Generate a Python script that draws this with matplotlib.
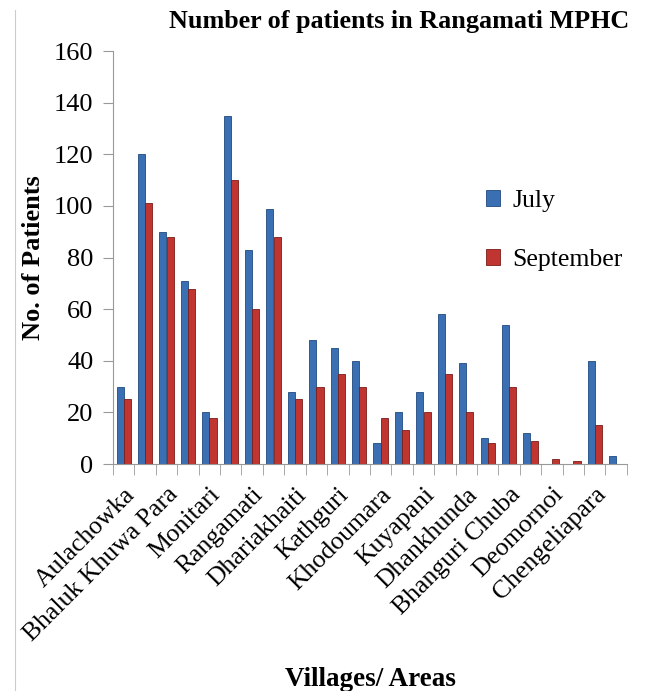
import matplotlib.pyplot as plt
import numpy as np
from matplotlib.lines import Line2D

plt.rcParams['font.family'] = ['Liberation Serif', 'DejaVu Serif']

# villages (only every other name is printed on the axis in the original)
villages = ["Aulachowka", "", "Bhaluk Khuwa Para", "", "Monitari", "",
            "Rangamati", "", "Dhariakhaiti", "", "Kathguri", "",
            "Khodoumara", "", "Kuyapani", "", "Dhankhunda", "",
            "Bhanguri Chuba", "", "Deomornoi", "", "Chengeliapara", ""]
july = [30, 120, 90, 71, 20, 135, 83, 99, 28, 48, 45, 40,
        8, 20, 28, 58, 39, 10, 54, 12, 0, 0, 40, 3]
september = [25, 101, 88, 68, 18, 110, 60, 88, 25, 30, 35, 30,
             18, 13, 20, 35, 20, 8, 30, 9, 2, 1, 15, 0]

blue = "#3a6fb4"
red = "#c0352f"

fig = plt.figure(figsize=(6.53, 6.91), dpi=100)
ax = fig.add_axes([0.173, 0.3285, 0.787, 0.5975])

x = np.arange(len(villages))
w = 0.33
ax.bar(x - 0.17, july, w, color=blue, edgecolor="#1f4a80", linewidth=0.6, label="July")
ax.bar(x + 0.17, september, w, color=red, edgecolor="#7a1c18", linewidth=0.6, label="September")

ax.set_xlim(-0.5, len(villages) - 0.5)
ax.set_ylim(0, 160)
ax.set_yticks(range(0, 161, 20))
ax.tick_params(axis="y", labelsize=19, length=7, color="#999999", pad=7)

# labels on even categories, tick marks between categories
shown = [i for i in x if villages[i]]
ax.set_xticks(shown)
ax.set_xticklabels([villages[i] for i in shown], rotation=45, ha="right",
                   rotation_mode="anchor", fontsize=18.5)
ax.tick_params(axis="x", length=0, pad=14)
ax.set_xticks(np.arange(-0.5, len(villages), 1), minor=True)
ax.tick_params(axis="x", which="minor", length=8, color="#999999")

for s in ["top", "right"]:
    ax.spines[s].set_visible(False)
for s in ["left", "bottom"]:
    ax.spines[s].set_color("#999999")

ax.legend(loc="upper left", bbox_to_anchor=(0.68, 0.72), frameon=False,
          fontsize=18.5, handlelength=0.55, handleheight=0.55, labelspacing=1.45,
          handletextpad=0.5)

fig.text(0.611, 0.969, "Number of patients in Rangamati MPHC", ha="center",
         va="center", fontsize=18.8, fontweight="bold")
fig.text(0.052, 0.627, "No. of Patients", rotation=90, ha="center",
         va="center", fontsize=19, fontweight="bold")
fig.text(0.568, 0.017, "Villages/ Areas", ha="center", va="center",
         fontsize=19.5, fontweight="bold")

fig.add_artist(Line2D([0.023, 0.023], [0.0, 0.985], transform=fig.transFigure,
                      color="#cccccc", linewidth=0.8))

fig.savefig("out.png", dpi=100)
